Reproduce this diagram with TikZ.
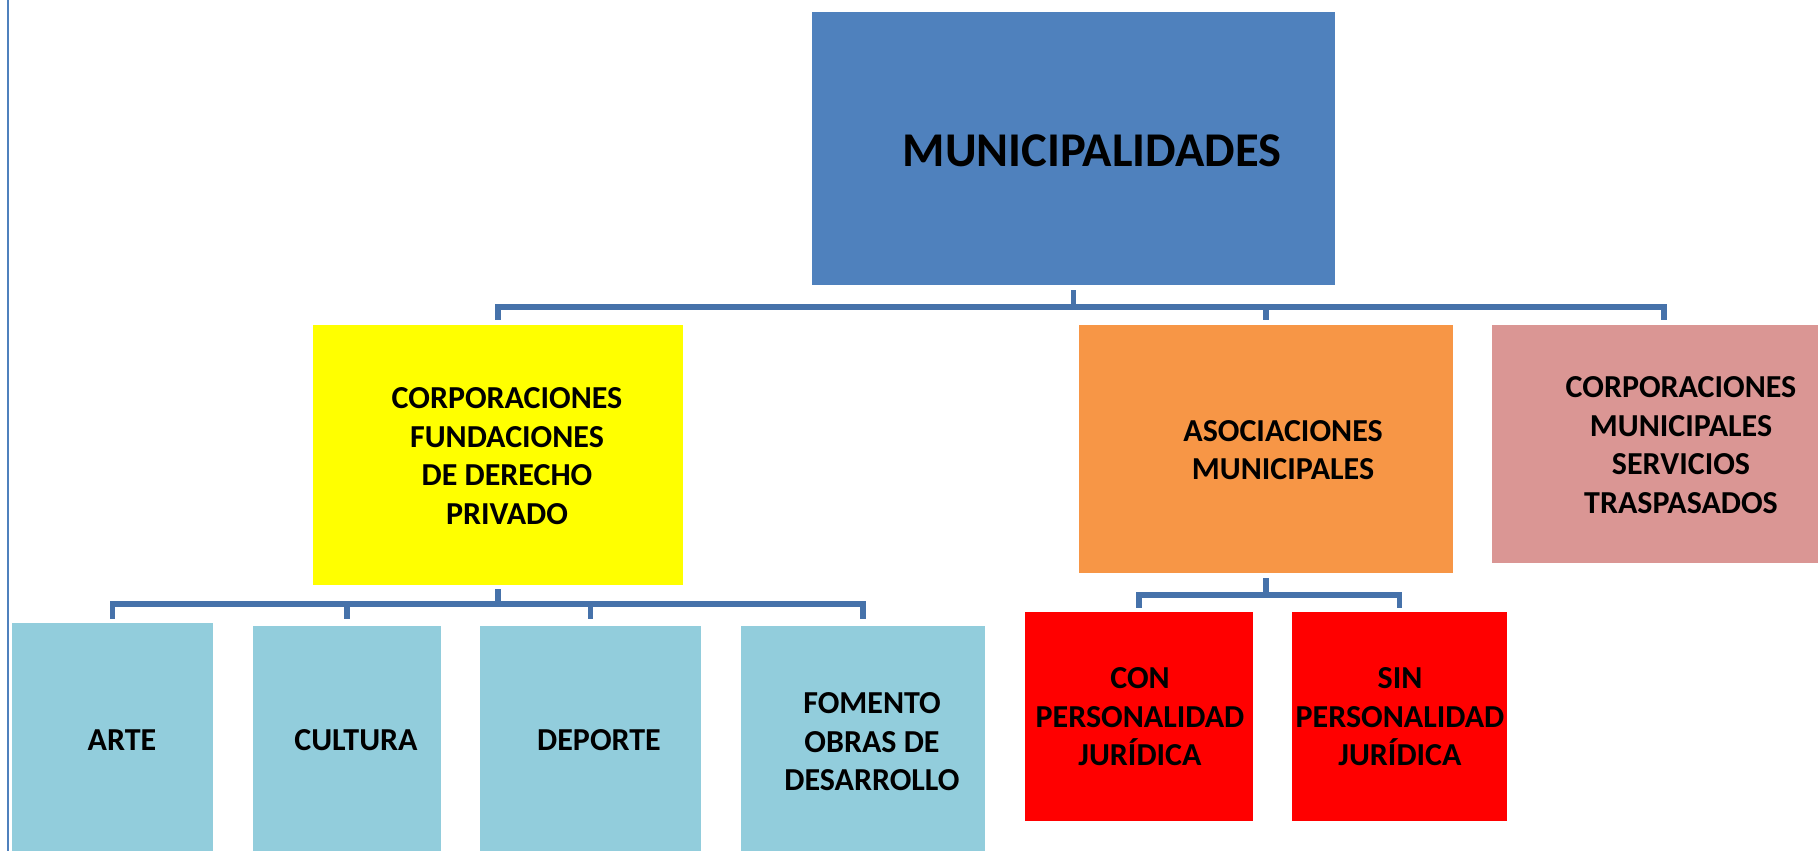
\documentclass[tikz,border=0pt]{standalone}
\usepackage{fontspec}
\setmainfont{Carlito}
\definecolor{topblue}{HTML}{4F81BD}
\definecolor{yel}{HTML}{FFFF00}
\definecolor{ora}{HTML}{F79646}
\definecolor{pnk}{HTML}{DA9694}
\definecolor{lblue}{HTML}{92CDDC}
\definecolor{rd}{HTML}{FF0000}
\definecolor{connc}{HTML}{4672AA}
\begin{document}
\begin{tikzpicture}[x=1pt,y=-1pt,
  box/.style={rectangle,draw=none,inner sep=0pt},
  lbl/.style={align=center,inner sep=0pt,font=\fontsize{32}{38.5}\selectfont\bfseries},
  conn/.style={draw=connc,line width=5.5pt,line cap=rect}]
\useasboundingbox (0,0) rectangle (1818,851);
\draw[topblue,line width=2pt] (8,0) -- (8,851);
% boxes
\node[box,fill=topblue,minimum width=523pt,minimum height=273pt] (top) at (1073.5,148.5) {};
\node[box,fill=yel,minimum width=370pt,minimum height=260pt] (yb) at (498,455) {};
\node[box,fill=ora,minimum width=374pt,minimum height=248pt] (ob) at (1266,449) {};
\node[box,fill=pnk,minimum width=344pt,minimum height=238pt] (pb) at (1664,444) {};
\node[box,fill=lblue,minimum width=201pt,minimum height=247pt] (arte) at (112.5,746.5) {};
\node[box,fill=lblue,minimum width=188pt,minimum height=244pt] (cult) at (347,748) {};
\node[box,fill=lblue,minimum width=221pt,minimum height=244pt] (dep) at (590.5,748) {};
\node[box,fill=lblue,minimum width=244pt,minimum height=244pt] (fom) at (863,748) {};
\node[box,fill=rd,minimum width=228pt,minimum height=209pt] (con) at (1139,716.5) {};
\node[box,fill=rd,minimum width=215pt,minimum height=209pt] (sin) at (1399.5,716.5) {};
% labels
\node[inner sep=0pt,font=\fontsize{48.5}{56}\selectfont\bfseries] (t-top) at (1092,151) {MUNICIPALIDADES};
\node[lbl] (t-yb) at (507,456) {CORPORACIONES\\FUNDACIONES\\DE DERECHO\\PRIVADO};
\node[lbl] (t-ob) at (1283,450) {ASOCIACIONES\\MUNICIPALES};
\node[lbl] (t-pb) at (1681,445) {CORPORACIONES\\MUNICIPALES\\SERVICIOS\\TRASPASADOS};
\node[lbl] (t-arte) at (122,740) {ARTE};
\node[lbl] (t-cult) at (356,740) {CULTURA};
\node[lbl] (t-dep) at (599,740) {DEPORTE};
\node[lbl] (t-fom) at (872,742) {FOMENTO\\OBRAS DE\\DESARROLLO};
\node[lbl] (t-con) at (1140,717) {CON\\PERSONALIDAD\\JURÍDICA};
\node[lbl] (t-sin) at (1400,717) {SIN\\PERSONALIDAD\\JURÍDICA};
% connector levels
\coordinate (s1) at (0,293);
\coordinate (b1) at (0,307);
\coordinate (d1) at (0,317);
\coordinate (s2) at (0,592);
\coordinate (b2) at (0,604);
\coordinate (d2) at (0,616);
\coordinate (s3) at (0,581);
\coordinate (b3) at (0,595);
\coordinate (d3) at (0,605);
% top level
\draw[conn] (top.south |- s1) -- (top.south |- b1);
\draw[conn] (yb.north |- d1) -- (yb.north |- b1) -- (pb.north |- b1) -- (pb.north |- d1);
\draw[conn] (ob.north |- b1) -- (ob.north |- d1);
% yellow level
\draw[conn] (yb.south |- s2) -- (yb.south |- b2);
\draw[conn] (arte.north |- d2) -- (arte.north |- b2) -- (fom.north |- b2) -- (fom.north |- d2);
\draw[conn] (cult.north |- b2) -- (cult.north |- d2);
\draw[conn] (dep.north |- b2) -- (dep.north |- d2);
% orange level
\draw[conn] (ob.south |- s3) -- (ob.south |- b3);
\draw[conn] (con.north |- d3) -- (con.north |- b3) -- (sin.north |- b3) -- (sin.north |- d3);
\end{tikzpicture}
\end{document}
